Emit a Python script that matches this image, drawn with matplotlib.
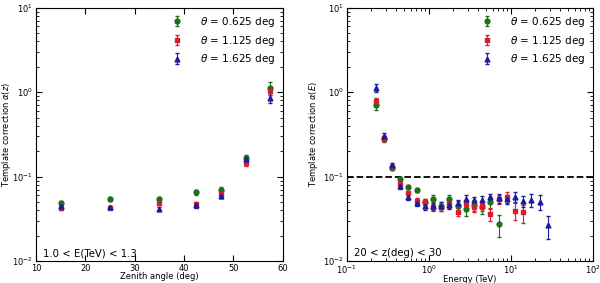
import numpy as np
import matplotlib
matplotlib.use('Agg')
import matplotlib.pyplot as plt

# left panel: correction vs zenith angle, 1.0 < E < 1.3 TeV
zen = [15, 25, 35, 42.5, 47.5, 52.5, 57.5]
z_g = [0.049, 0.054, 0.054, 0.065, 0.069, 0.168, 1.12]
z_r = [0.0425, 0.043, 0.049, 0.047, 0.063, 0.145, 1.04]
z_b = [0.045, 0.0435, 0.042, 0.046, 0.059, 0.164, 0.86]
z_ge = [0.003, 0.003, 0.004, 0.004, 0.006, 0.015, 0.20]
z_re = [0.002, 0.002, 0.003, 0.003, 0.004, 0.010, 0.12]
z_be = [0.002, 0.002, 0.002, 0.003, 0.003, 0.012, 0.12]

# right panel: correction vs energy, 20 < z < 30 deg
energy = [0.224, 0.282, 0.355, 0.447, 0.562, 0.708, 0.891, 1.12, 1.41, 1.78, 2.24,
          2.82, 3.55, 4.47, 5.62, 7.08, 8.91, 11.2, 14.1, 17.8, 22.4, 28.2]
e_g = [0.71, 0.28, 0.128, 0.094, 0.075, 0.069, 0.050, 0.055, 0.0445, 0.054, 0.045,
       0.0416, 0.0463, 0.044, 0.050, 0.0275]
e_r = [0.78, 0.285, 0.131, 0.083, 0.064, 0.052, 0.050, 0.0435, 0.0435, 0.047, 0.0384,
       0.047, 0.0432, 0.045, 0.0363, 0.054, 0.057, 0.0398, 0.0377]
e_b = [1.12, 0.30, 0.137, 0.077, 0.057, 0.0485, 0.0444, 0.0445, 0.0455, 0.046, 0.0485,
       0.055, 0.0526, 0.053, 0.057, 0.0556, 0.054, 0.058, 0.0516, 0.053, 0.0508, 0.0265]
e_ge = [0.10, 0.02, 0.008, 0.006, 0.004, 0.004, 0.004, 0.005, 0.005, 0.006, 0.006,
        0.007, 0.007, 0.008, 0.008, 0.008]
e_re = [0.08, 0.02, 0.008, 0.006, 0.004, 0.004, 0.004, 0.004, 0.004, 0.004, 0.004,
        0.005, 0.005, 0.006, 0.006, 0.007, 0.008, 0.009, 0.009]
e_be = [0.12, 0.025, 0.01, 0.006, 0.004, 0.004, 0.004, 0.004, 0.004, 0.004, 0.005,
        0.005, 0.005, 0.006, 0.006, 0.007, 0.007, 0.008, 0.008, 0.009, 0.010, 0.008]

labels = [r'$\theta$ = 0.625 deg', r'$\theta$ = 1.125 deg', r'$\theta$ = 1.625 deg']
cols = ['#1e6e1e', '#e01a2a', '#1c1ca0']
marks = ['o', 's', '^']

plt.rcParams['xtick.direction'] = 'in'
plt.rcParams['ytick.direction'] = 'in'
plt.rcParams['xtick.top'] = True
plt.rcParams['ytick.right'] = True
plt.rcParams['xtick.major.size'] = 4
plt.rcParams['ytick.major.size'] = 4
plt.rcParams['xtick.minor.size'] = 2
plt.rcParams['ytick.minor.size'] = 2
plt.rcParams['mathtext.fontset'] = 'dejavusans'

fig = plt.figure(figsize=(6, 2.83), dpi=100)
ax1 = fig.add_axes([0.06, 0.077, 0.411, 0.896])
ax2 = fig.add_axes([0.578, 0.077, 0.41, 0.896])

for ys, es, c, m, l in zip([z_g, z_r, z_b], [z_ge, z_re, z_be], cols, marks, labels):
    ax1.errorbar(zen, ys, yerr=es, fmt=m, color=c, mec=c, ms=3.5, elinewidth=0.8,
                 capsize=1.5, label=l)
ax1.set_yscale('log')
ax1.set_xlim(10, 60)
ax1.set_ylim(0.01, 10)
ax1.set_xlabel('Zenith angle (deg)', fontsize=6, labelpad=-1)
ax1.set_ylabel(r'Template correction $\alpha(z)$', fontsize=6)
ax1.yaxis.set_label_coords(-0.093, 0.5)
ax1.text(0.03, 0.02, '1.0 < E(TeV) < 1.3', transform=ax1.transAxes, fontsize=7.3)

for xs, ys, es, c, m, l in zip([energy[:16], energy[:19], energy], [e_g, e_r, e_b],
                               [e_ge, e_re, e_be], cols, marks, labels):
    ax2.errorbar(xs, ys, yerr=es, fmt=m, color=c, mec=c, ms=3.5, elinewidth=0.8,
                 capsize=1.5, label=l)
ax2.axhline(0.1, color='k', ls='--', lw=1.3)
ax2.set_xscale('log')
ax2.set_yscale('log')
ax2.set_xlim(0.1, 100)
ax2.set_ylim(0.01, 10)
ax2.set_xlabel('Energy (TeV)', fontsize=6, labelpad=-1)
ax2.set_ylabel(r'Template correction $\alpha(E)$', fontsize=6)
ax2.yaxis.set_label_coords(-0.11, 0.5)
ax2.text(0.03, 0.02, '20 < z(deg) < 30', transform=ax2.transAxes, fontsize=7.3)

for ax in [ax1, ax2]:
    ax.tick_params(labelsize=6, pad=2)
    ax.legend(loc='upper right', frameon=False, fontsize=7.5, numpoints=1,
              handletextpad=1.2, borderaxespad=0.3, labelspacing=0.45)

plt.savefig('out.png', dpi=100)
